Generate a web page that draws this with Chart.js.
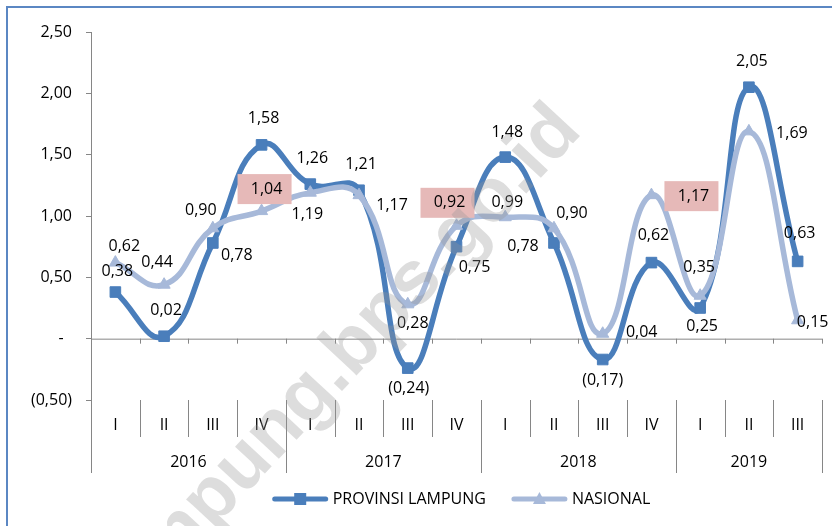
<!DOCTYPE html>
<html>
<head>
<meta charset="utf-8">
<script src="https://cdn.jsdelivr.net/npm/chart.js@4.4.0/dist/chart.umd.min.js"></script>
<style>
  html, body { margin: 0; padding: 0; background: #fff; }
</style>
</head>
<body>
<canvas id="chart" width="832" height="526"></canvas>
<script>
const quarters = ["I", "II", "III", "IV", "I", "II", "III", "IV", "I", "II", "III", "IV", "I", "II", "III"];
const years = ["2016", "2017", "2018", "2019"];
const quartersPerYear = [4, 4, 4, 3];
const lampung = [0.38, 0.02, 0.78, 1.58, 1.26, 1.21, -0.24, 0.75, 1.48, 0.78, -0.17, 0.62, 0.25, 2.05, 0.63];
const nasional = [0.62, 0.44, 0.90, 1.04, 1.19, 1.17, 0.28, 0.92, 0.99, 0.90, 0.04, 1.17, 0.35, 1.69, 0.15];

// where each value label sits relative to its point (px)
const lampungLabelOffset = [[2,-21],[2,-26],[24,12],[2,-26],[2,-26],[2,-26],[1,20],[18,21],[2,-25],[-31,3],[0,21],[2,-27],[2,18],[3,-26],[2,-28]];
const nasionalLabelOffset = [[9,-16],[-7,-22],[-12,-18],[3,-22],[-3,22],[33,10],[5,19],[-9,-23],[2,-15],[18,-15],[39,-1],[40,1],[-1,-28],[43,2],[15,2]];
const boxedNasional = [3, 7, 11];

const FONT = '"Open Sans", sans-serif';
const DARK = '#4A7EBB';
const LIGHT = '#A7B9D9';
const AXIS = '#868686';

function fmt(v) {
  if (Math.abs(v) < 1e-9) return '-  ';
  const s = Math.abs(v).toFixed(2).replace('.', ',');
  return v < 0 ? '(' + s + ')' : s;
}

function boundary(x, i) {
  const w = x.getPixelForValue(1) - x.getPixelForValue(0);
  return x.getPixelForValue(i) - w / 2;
}

const framePlugin = {
  id: 'frame',
  beforeDraw(chart) {
    const ctx = chart.ctx;
    ctx.save();
    ctx.fillStyle = '#fff';
    ctx.fillRect(0, 0, chart.width, chart.height);
    ctx.strokeStyle = '#5B87C3';
    ctx.lineWidth = 2;
    ctx.beginPath();
    ctx.moveTo(7, chart.height);
    ctx.lineTo(7, 7);
    ctx.lineTo(chart.width, 7);
    ctx.stroke();
    ctx.restore();
  }
};

const axisPlugin = {
  id: 'excelAxis',
  beforeDatasetsDraw(chart) {
    const { ctx, chartArea, scales: { x, y } } = chart;
    const y0 = y.getPixelForValue(0);
    const bottom = chartArea.bottom;
    ctx.save();
    ctx.strokeStyle = AXIS;
    ctx.lineWidth = 1;
    ctx.beginPath();
    ctx.moveTo(boundary(x, 0), y0 + 0.5);
    ctx.lineTo(boundary(x, quarters.length), y0 + 0.5);
    for (let i = 0; i <= quarters.length; i++) {
      const bx = Math.round(boundary(x, i)) + 0.5;
      ctx.moveTo(bx, y0);
      ctx.lineTo(bx, y0 + 5);
    }
    // category separators
    const yearEdges = [0];
    quartersPerYear.forEach(n => yearEdges.push(yearEdges[yearEdges.length - 1] + n));
    for (let i = 0; i <= quarters.length; i++) {
      const bx = Math.round(boundary(x, i)) + 0.5;
      const long = yearEdges.includes(i);
      ctx.moveTo(bx, bottom);
      ctx.lineTo(bx, bottom + (long ? 73 : 37));
    }
    ctx.stroke();

    ctx.fillStyle = '#000';
    ctx.font = '16px ' + FONT;
    ctx.textAlign = 'center';
    ctx.textBaseline = 'middle';
    quarters.forEach((q, i) => ctx.fillText(q, x.getPixelForValue(i), bottom + 25));
    years.forEach((yr, k) => {
      const a = boundary(x, yearEdges[k]);
      const b = boundary(x, yearEdges[k + 1]);
      ctx.fillText(yr, (a + b) / 2, bottom + 62);
    });
    ctx.restore();
  },
  afterDatasetsDraw(chart) {
    const ctx = chart.ctx;
    ctx.save();
    ctx.font = '16px ' + FONT;
    ctx.textAlign = 'center';
    ctx.textBaseline = 'middle';
    const sets = [[0, lampungLabelOffset, []], [1, nasionalLabelOffset, boxedNasional]];
    sets.forEach(([di, offs, boxed]) => {
      const meta = chart.getDatasetMeta(di);
      const values = chart.data.datasets[di].data;
      meta.data.forEach((pt, i) => {
        const lx = pt.x + offs[i][0];
        const ly = pt.y + offs[i][1];
        if (boxed.includes(i)) {
          ctx.fillStyle = '#E6B9B8';
          ctx.fillRect(lx - 27, ly - 15, 54, 30);
        }
        ctx.fillStyle = '#000';
        ctx.fillText(fmt(values[i]), boxed.includes(i) ? lx + 2 : lx, ly);
      });
    });
    ctx.restore();
  },
  afterDraw(chart) {
    const { ctx, chartArea } = chart;
    // legend
    ctx.save();
    ctx.font = '16px ' + FONT;
    ctx.textBaseline = 'middle';
    const lineLen = 55, gap = 5, itemGap = 26;
    const items = chart.data.datasets.map((ds, i) => ({
      ds, style: i === 0 ? 'rect' : 'triangle', w: ctx.measureText(ds.label).width
    }));
    const total = items.reduce((s, it) => s + lineLen + gap + it.w, 0) + itemGap * (items.length - 1);
    let cx = (chartArea.left + chartArea.right) / 2 + 5 - total / 2;
    const ly = 499;
    items.forEach(it => {
      ctx.strokeStyle = it.ds.borderColor;
      ctx.lineWidth = 5;
      ctx.lineCap = 'round';
      ctx.beginPath();
      ctx.moveTo(cx + 2, ly);
      ctx.lineTo(cx + lineLen - 2, ly);
      ctx.stroke();
      ctx.fillStyle = it.ds.borderColor;
      const mx = cx + lineLen / 2;
      if (it.style === 'rect') {
        ctx.fillRect(mx - 6, ly - 6, 12, 12);
      } else {
        ctx.beginPath();
        ctx.moveTo(mx, ly - 7);
        ctx.lineTo(mx + 6.5, ly + 5);
        ctx.lineTo(mx - 6.5, ly + 5);
        ctx.closePath();
        ctx.fill();
      }
      ctx.fillStyle = '#000';
      ctx.textAlign = 'left';
      ctx.fillText(it.ds.label, cx + lineLen + gap, ly);
      cx += lineLen + gap + it.w + itemGap;
    });
    ctx.restore();

    // watermark
    ctx.save();
    ctx.translate(568, 118);
    ctx.rotate(-47 * Math.PI / 180);
    ctx.font = 'bold 76px "Liberation Sans", sans-serif';
    ctx.textAlign = 'right';
    ctx.textBaseline = 'middle';
    ctx.fillStyle = 'rgba(150,150,150,0.32)';
    ctx.fillText('www.lampung.bps.go.id', 0, 0);
    ctx.restore();
  }
};

new Chart(document.getElementById('chart'), {
  type: 'line',
  data: {
    labels: quarters,
    datasets: [
      {
        label: 'PROVINSI LAMPUNG',
        data: lampung,
        borderColor: DARK,
        backgroundColor: DARK,
        borderWidth: 5.5,
        tension: 0.45,
        pointStyle: 'rect',
        pointRadius: 7.5,
        pointBorderWidth: 1,
        order: 2
      },
      {
        label: 'NASIONAL',
        data: nasional,
        borderColor: LIGHT,
        backgroundColor: LIGHT,
        borderWidth: 5.5,
        tension: 0.45,
        pointStyle: 'triangle',
        pointRadius: 7,
        pointBorderWidth: 1,
        order: 1
      }
    ]
  },
  options: {
    responsive: false,
    animation: false,
    devicePixelRatio: 1,
    layout: { padding: { left: 11, right: 10, top: 32, bottom: 126 } },
    plugins: {
      legend: { display: false },
      tooltip: { enabled: false }
    },
    scales: {
      x: { display: false, offset: true },
      y: {
        min: -0.5,
        max: 2.5,
        afterFit: s => { s.width = 80; },
        border: { display: true, color: AXIS, width: 1 },
        grid: { drawOnChartArea: false, drawTicks: true, tickLength: 5, color: AXIS },
        ticks: {
          stepSize: 0.5,
          padding: 14,
          color: '#000',
          font: { family: FONT, size: 16 },
          callback: v => fmt(v)
        }
      }
    }
  },
  plugins: [framePlugin, axisPlugin]
});
</script>
</body>
</html>
